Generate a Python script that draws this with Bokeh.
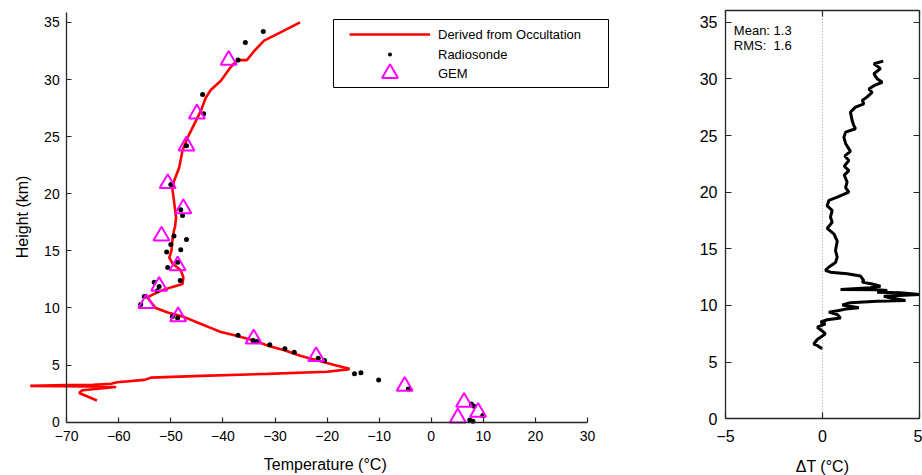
import math
from bokeh.plotting import figure
from bokeh.layouts import row
from bokeh.models import (Range1d, FixedTicker, LinearAxis, Legend, LegendItem,
                          Label, BoxAnnotation)
from bokeh.embed import file_html
from bokeh.resources import INLINE

# ---------------- data ----------------
# Derived from occultation: temperature (degC) vs height (km)
occ_T = [-64.2, -67.6, -67.0, -60.5, -66.0, -77.0, -70.0, -65.0, -61.5, -60.3,
         -55.1, -53.8, -44.2, -31.4, -20.0, -16.0, -15.7, -18.6, -21.8, -25.0,
         -28.2, -31.4, -34.0, -37.8, -40.4, -42.6, -44.2, -47.4, -50.6, -52.9,
         -53.8, -54.5, -53.8, -51.9, -50.0, -47.75, -47.6, -48.1, -49.7, -50.3,
         -49.9, -49.7, -49.4, -49.2, -49.0, -49.4, -49.7, -49.4, -48.4, -47.75,
         -46.8, -45.5, -44.2, -43.3, -42.3, -40.4, -38.5, -37.2, -35.4, -34.0,
         -32.1, -29.5, -25.2]
occ_z = [1.9, 2.55, 2.8, 3.08, 3.12, 3.18, 3.25, 3.28, 3.36, 3.5,
         3.7, 3.9, 4.05, 4.23, 4.42, 4.62, 4.68, 5.0, 5.4, 5.8,
         6.3, 6.7, 7.15, 7.6, 7.9, 8.3, 8.6, 9.2, 9.6, 10.0,
         10.5, 10.9, 11.1, 11.5, 11.8, 12.1, 12.7, 13.3, 13.9, 14.4,
         15.0, 15.9, 16.8, 17.1, 17.9, 19.4, 20.4, 21.1, 22.3, 23.8,
         24.9, 26.1, 27.3, 28.4, 29.1, 29.9, 31.1, 31.7, 31.7, 32.5,
         33.4, 34.0, 35.0]

# Radiosonde
sonde_T = [-32.25, -35.7, -37.1, -43.9, -43.7, -47.0, -50.0, -48.1, -47.75, -49.4,
           -47.0, -50.0, -48.1, -50.8, -48.7, -50.6, -48.2, -52.25, -53.2, -52.6,
           -55.1, -55.8, -49.7, -48.7, -37.1, -34.2, -33.5, -31.0, -28.1, -26.3,
           -21.7, -20.5, -14.75, -13.5, -10.1, -4.4, 7.7, 8.2, 9.9, 7.4, 8.0]
sonde_z = [34.2, 33.25, 31.7, 28.7, 27.0, 24.2, 20.8, 18.6, 18.1, 16.3,
           16.0, 15.55, 15.1, 14.9, 14.0, 13.55, 12.4, 11.87, 12.25, 11.5,
           11.0, 10.3, 9.25, 9.13, 7.6, 7.15, 7.06, 6.77, 6.42, 6.12,
           5.6, 5.4, 4.23, 4.32, 3.7, 2.9, 1.6, 1.4, 0.58, 0.2, 0.09]

# GEM model
gem_T = [-38.9, -45.0, -47.0, -50.6, -47.6, -51.8, -48.7, -52.25, -54.7, -48.6,
         -34.1, -22.1, -5.1, 6.3, 9.0, 5.1]
gem_z = [31.7, 27.0, 24.2, 20.9, 18.7, 16.3, 13.7, 11.9, 10.4, 9.25,
         7.3, 5.75, 3.15, 1.75, 0.87, 0.38]

# Temperature difference profile
dT = [3.13, 2.65, 2.99, 2.65, 2.82, 3.08, 2.65, 2.39, 2.56, 2.30,
      2.05, 2.13, 1.70, 1.44, 1.53, 1.61, 1.70, 1.19, 1.10, 1.19,
      1.44, 1.15, 1.36, 1.12, 1.36, 1.12, 1.27, 1.19, 1.36, 0.76,
      0.33, 0.24, 0.50, 0.41, 0.50, 0.24, 0.60, 0.67, 0.76, 0.67,
      0.76, 0.67, 0.33, 0.15, 0.41, 1.27, 1.96, 2.13, 2.04, 2.56,
      2.99, 2.47, 0.93, 2.82, 3.34, 2.82, 4.02, 5.0, 3.16, 3.59,
      4.28, 2.82, 1.44, 1.02, 1.87, 1.19, 0.84, 0.33, 0.76, 0.93,
      0.24, -0.10, 0.15, -0.27, 0.07, 0.15, -0.10, -0.27, -0.45, -0.27,
      -0.02]
dT_z = [31.56, 31.33, 30.9, 30.45, 30.0, 29.7, 29.4, 29.1, 28.8, 28.4,
        28.1, 27.8, 27.5, 27.06, 26.3, 25.9, 25.6, 25.3, 24.85, 24.3,
        23.6, 23.2, 22.8, 22.3, 21.9, 21.5, 20.9, 20.4, 20.0, 19.56,
        19.27, 18.8, 18.4, 17.8, 17.35, 16.8, 16.3, 16.0, 15.7, 14.85,
        14.26, 13.8, 13.4, 13.1, 12.94, 12.8, 12.6, 12.2, 12.06, 11.9,
        11.7, 11.56, 11.41, 11.38, 11.32, 11.17, 11.12, 10.97, 10.82, 10.64,
        10.44, 10.38, 10.24, 10.05, 9.8, 9.68, 9.56, 9.41, 9.2, 8.9,
        8.74, 8.53, 8.38, 8.08, 7.64, 7.5, 7.2, 7.0, 6.6, 6.47,
        6.18]

t_ticks = [-70, -60, -50, -40, -30, -20, -10, 0, 10, 20, 30]
h_ticks = [0, 5, 10, 15, 20, 25, 30, 35]
d_ticks = [-5, 0, 5]
t_lim = (-70, 30)
h_lim_left = (0, 35.9)
d_lim = (-5, 5)
h_lim_right = (0, 36)

series_names = ["Derived from Occultation", "Radiosonde", "GEM"]
x_label_left = "Temperature (\u00b0C)"
y_label_left = "Height (km)"
x_label_right = "\u0394T (\u00b0C)"
stats_lines = ["Mean: 1.3", "RMS:\u00a0 1.6"]

FONT = "Liberation Sans"
AX = "#262626"


def style_axis(ax, size, tick_in, standoff, hide_labels=False):
    ax.major_label_text_font = FONT
    ax.major_label_text_font_size = size
    ax.major_label_text_color = None if hide_labels else "black"
    ax.major_label_standoff = standoff
    ax.axis_line_color = AX
    ax.axis_line_width = 1.3
    ax.major_tick_line_color = AX
    ax.major_tick_line_width = 1.2
    ax.major_tick_in = tick_in
    ax.major_tick_out = 0
    ax.minor_tick_line_color = None
    ax.axis_label = None


# ---------------- left panel ----------------
# the frame fills the whole canvas; axes are pinned at the data limits
p1 = figure(width=680, height=475, output_backend="svg", toolbar_location=None,
            x_range=Range1d(-82.71, 47.86), y_range=Range1d(-4.67, 36.92),
            min_border_left=0, min_border_right=0, min_border_top=0,
            min_border_bottom=0)
p1.outline_line_color = None
p1.grid.visible = False
p1.background_fill_color = "white"
p1.border_fill_color = "white"

xa = p1.xaxis[0]
xa.ticker = FixedTicker(ticks=t_ticks)
xa.fixed_location = h_lim_left[0]
xa.bounds = t_lim
style_axis(xa, "14px", 5, 9)
ya = p1.yaxis[0]
ya.ticker = FixedTicker(ticks=h_ticks)
ya.fixed_location = t_lim[0]
ya.bounds = h_lim_left
style_axis(ya, "14px", 5, 7)

r_occ = p1.line(occ_T, occ_z, line_color="red", line_width=2.6)
r_son = p1.scatter(sonde_T, sonde_z, marker="dot", size=20,
                   line_color="black")
r_gem = p1.scatter(gem_T, gem_z, marker="triangle", size=16,
                   fill_color=None, line_color="magenta", line_width=2)

p1.add_layout(Label(x=-20.35, y=-3.75, text=x_label_left, text_font=FONT,
                    text_font_size="16px", text_align="center",
                    text_baseline="middle", text_color="black"))
p1.add_layout(Label(x=-78.39, y=17.97, text=y_label_left, angle=math.pi / 2,
                    text_font=FONT, text_font_size="16px", text_align="center",
                    text_baseline="middle", text_color="black"))

# legend frame
p1.add_layout(BoxAnnotation(left=333, right=608, top=456, bottom=388,
                            left_units="screen", right_units="screen",
                            top_units="screen", bottom_units="screen",
                            fill_color="white", fill_alpha=1,
                            line_color="black", line_width=1, line_alpha=1,
                            level="annotation"))
# one legend row per series, stacked inside the frame
row_bottoms = [421, 401, 382]
for name, rend, yb in zip(series_names, [r_occ, r_son, r_gem], row_bottoms):
    lg = Legend(items=[LegendItem(label=name, renderers=[rend])],
                location=(349, yb), orientation="vertical",
                padding=0, margin=0, spacing=0,
                glyph_width=81, glyph_height=40, label_height=40,
                label_standoff=8,
                label_text_font=FONT, label_text_font_size="13px",
                label_text_color="black",
                border_line_color=None, background_fill_alpha=0)
    p1.add_layout(lg, "center")

# ---------------- right panel ----------------
p2 = figure(width=242, height=475, output_backend="svg", toolbar_location=None,
            x_range=Range1d(-7.32, 5.155), y_range=Range1d(-5.004, 36.915),
            min_border_left=0, min_border_right=0, min_border_top=0,
            min_border_bottom=0)
p2.grid.visible = False
p2.outline_line_color = None
p2.background_fill_color = "white"
p2.border_fill_color = "white"

bx = p2.xaxis[0]
bx.ticker = FixedTicker(ticks=d_ticks)
bx.fixed_location = h_lim_right[0]
bx.bounds = d_lim
style_axis(bx, "16px", 6, 11)
by = p2.yaxis[0]
by.ticker = FixedTicker(ticks=h_ticks)
by.fixed_location = d_lim[0]
by.bounds = h_lim_right
style_axis(by, "16px", 6, 8)

tx = LinearAxis(ticker=FixedTicker(ticks=d_ticks), fixed_location=h_lim_right[1],
                bounds=d_lim)
style_axis(tx, "16px", 6, 0, hide_labels=True)
p2.add_layout(tx, "above")
ry = LinearAxis(ticker=FixedTicker(ticks=h_ticks), fixed_location=d_lim[1],
                bounds=h_lim_right)
style_axis(ry, "16px", 6, 0, hide_labels=True)
p2.add_layout(ry, "right")

# zero reference line
p2.line([0, 0], list(h_lim_right), line_color="#9a9a9a", line_width=1,
        line_dash="1 2")
p2.line(dT, dT_z, line_color="black", line_width=3)

p2.add_layout(Label(x=0, y=-4.19, text=x_label_right, text_font=FONT,
                    text_font_size="16px", text_align="center",
                    text_baseline="middle", text_color="black"))
for i, s in enumerate(stats_lines):
    p2.add_layout(Label(x=-4.57, y=34.27 - 1.32 * i, text=s,
                        text_font=FONT, text_font_size="13px",
                        text_baseline="middle", text_align="left",
                        text_color="black"))

layout = row(p1, p2)
open("out.html", "w").write(file_html(layout, INLINE))
